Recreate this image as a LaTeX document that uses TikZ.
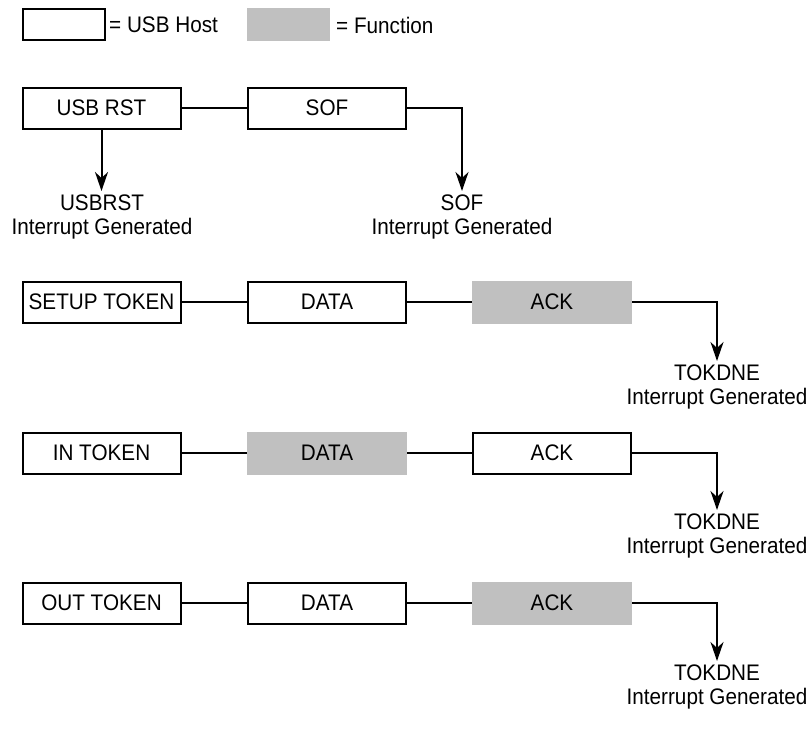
\documentclass[tikz,border=0pt]{standalone}
\usepackage{fontspec}
\setmainfont{Liberation Sans}[FakeStretch=0.92]
\usetikzlibrary{arrows.meta}
\definecolor{funcgray}{RGB}{192,192,192}
\begin{document}
\begin{tikzpicture}[x=1pt,y=-1pt,
  txt/.style={font=\fontsize{22.5}{24}\selectfont, inner sep=0pt},
  hostbox/.style={txt, draw=black, line width=2pt, minimum width=158pt, minimum height=41pt},
  funcbox/.style={txt, fill=funcgray, minimum width=160pt, minimum height=43pt},
  conn/.style={line width=2pt},
  arr/.style={line width=2pt, -{Stealth[length=19pt,width=13pt,inset=6pt]}, shorten >=4pt},
  lbl/.style={txt, align=center, anchor=north}
]
\useasboundingbox (0,0) rectangle (811,731);
% legend
\node[hostbox, minimum width=82pt, minimum height=31pt] (lh) at (64,24) {};
\node[txt, anchor=west] (lht) at (109,25) {= USB Host};
\node[funcbox, minimum width=83pt, minimum height=33pt] (lf) at (288.5,24) {};
\node[txt, anchor=west] (lft) at (336,25) {= Function};
% row 1
\node[hostbox] (rst) at (101.5,108) {USB RST};
\node[hostbox] (sof) at (327,108) {SOF};
\node[lbl] (rstl) at (102,195) {USBRST\\Interrupt Generated};
\node[lbl] (sofl) at (462,195) {SOF\\Interrupt Generated};
\draw[conn] (rst) -- (sof);
\draw[arr] (rst.south) -- (rst.south |- rstl.north);
\draw[arr] (sof.east) -| (sofl.north);
% row 2
\node[hostbox] (setup) at (101.5,302) {SETUP TOKEN};
\node[hostbox] (d1) at (327,302) {DATA};
\node[funcbox] (a1) at (552,302) {ACK};
\node[lbl] (t1) at (717,365) {TOKDNE\\Interrupt Generated};
\draw[conn] (setup) -- (d1);
\draw[conn] (d1) -- (a1);
\draw[arr] (a1.east) -| (t1.north);
% row 3
\node[hostbox] (in) at (101.5,453) {IN TOKEN};
\node[funcbox] (d2) at (327,453) {DATA};
\node[hostbox] (a2) at (552,453) {ACK};
\node[lbl] (t2) at (717,514) {TOKDNE\\Interrupt Generated};
\draw[conn] (in) -- (d2);
\draw[conn] (d2) -- (a2);
\draw[arr] (a2.east) -| (t2.north);
% row 4
\node[hostbox] (out) at (101.5,603) {OUT TOKEN};
\node[hostbox] (d3) at (327,603) {DATA};
\node[funcbox] (a3) at (552,603) {ACK};
\node[lbl] (t3) at (717,665) {TOKDNE\\Interrupt Generated};
\draw[conn] (out) -- (d3);
\draw[conn] (d3) -- (a3);
\draw[arr] (a3.east) -| (t3.north);
\end{tikzpicture}
\end{document}
